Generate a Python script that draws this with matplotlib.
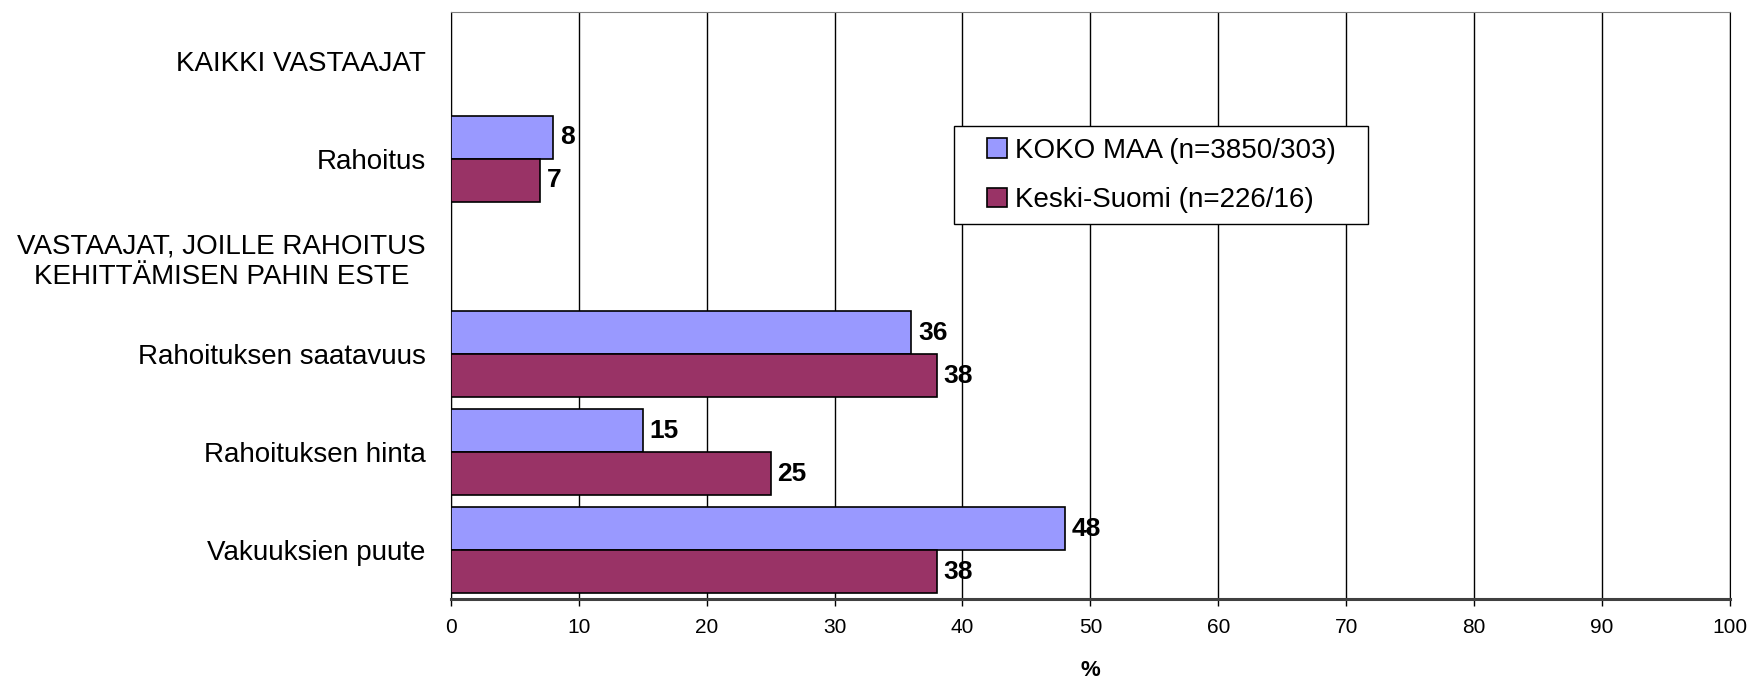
import numpy as np
import matplotlib
matplotlib.use("Agg")
from matplotlib import pyplot as plt
from matplotlib.patches import Rectangle

# categories from top to bottom
categories = [
    "KAIKKI VASTAAJAT",
    "Rahoitus",
    "VASTAAJAT, JOILLE RAHOITUS\nKEHITTÄMISEN PAHIN ESTE",
    "Rahoituksen saatavuus",
    "Rahoituksen hinta",
    "Vakuuksien puute",
]
koko_maa = [np.nan, 8, np.nan, 36, 15, 48]
keski_suomi = [np.nan, 7, np.nan, 38, 25, 38]
series_names = ["KOKO MAA (n=3850/303)", "Keski-Suomi (n=226/16)"]
x_ticks = list(range(0, 101, 10))

col_blue = "#9999FF"
col_red = "#993366"
arial = ["Liberation Sans", "DejaVu Sans"]
plt.rcParams["font.family"] = arial

fig = plt.figure(figsize=(17.54, 6.84), dpi=100)
ax = fig.add_axes([0.257, 0.1243, 0.7293, 0.8582])

pos = np.arange(len(categories))
h = 0.44

def draw(values, offset, color, label):
    vals = np.array(values, dtype=float)
    ok = ~np.isnan(vals)
    bars = ax.barh(pos[ok] + offset, vals[ok], height=h, color=color,
                   edgecolor="black", linewidth=1.2, label=label, zorder=3)
    for y, v in zip(pos[ok] + offset, vals[ok]):
        ax.annotate("%d" % v, xy=(v, y), xytext=(5, 0), textcoords="offset points",
                    va="center", ha="left", fontsize=19, fontweight="bold")
    return bars

draw(koko_maa, -h / 2, col_blue, series_names[0])
draw(keski_suomi, h / 2, col_red, series_names[1])

ax.set_xlim(0, 100)
ax.set_ylim(len(categories) - 0.5, -0.5)
ax.set_xticks(x_ticks)
ax.set_xticklabels([str(t) for t in x_ticks])
ax.tick_params(axis="x", direction="out", length=5, width=1, pad=9,
               color="black", labelsize=15)
ax.set_yticks(pos)
ax.set_yticklabels(categories, multialignment="center")
ax.tick_params(axis="y", length=0, pad=18, labelsize=20)

ax.xaxis.grid(True, color="black", linewidth=1)
ax.set_axisbelow(True)

ax.spines["top"].set_color("#808080")
ax.spines["right"].set_color("black")
ax.spines["left"].set_color("black")
ax.spines["bottom"].set_color("#404040")
ax.spines["bottom"].set_linewidth(2.2)

ax.set_xlabel("%", fontsize=16, fontweight="bold", labelpad=16)

# legend box drawn separately so the padding matches the original
ax.add_patch(Rectangle((0.3934, 0.639), 0.3236, 0.167, transform=ax.transAxes,
                       facecolor="white", edgecolor="black", linewidth=1, zorder=5))
leg = ax.legend(loc="upper left", bbox_to_anchor=(0.419, 0.786),
                prop={"size": 20}, frameon=False,
                handlelength=0.72, handleheight=0.72, handletextpad=0.3,
                borderpad=0, labelspacing=0.85, borderaxespad=0)
leg.set_zorder(6)

fig.savefig("out.png", dpi=100)
